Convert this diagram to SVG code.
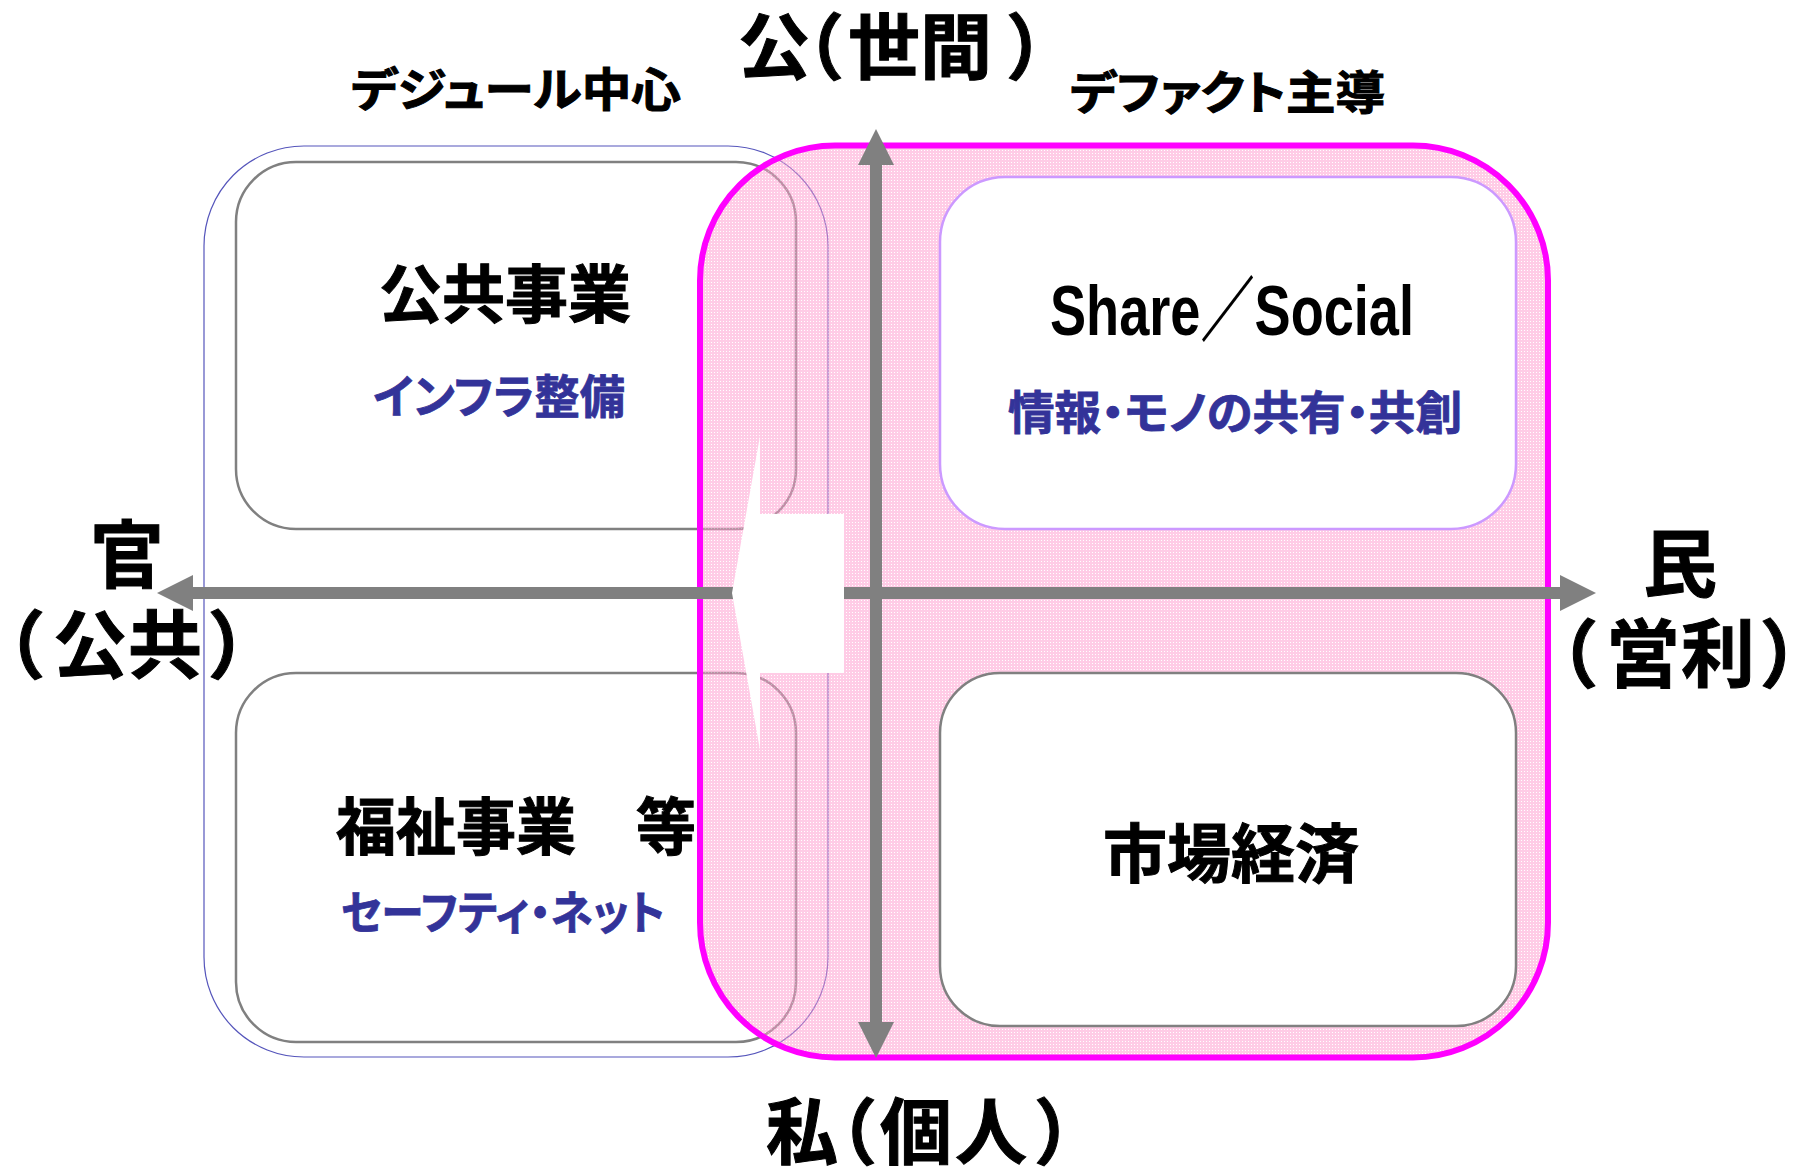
<svg xmlns="http://www.w3.org/2000/svg" width="1807" height="1167" viewBox="0 0 1807 1167">
<style>
.jp{font-family:"Noto Sans CJK JP","Noto Sans CJK SC",sans-serif;font-weight:700}
.pal{font-feature-settings:"palt"}
.blk{fill:#000;stroke:#000;stroke-width:1}
.sub{fill:#333399;stroke:#333399;stroke-width:0.8}
.gbox{fill:#fff;stroke:#808080;stroke-width:2.5}
.lbox{fill:#fff;stroke:#CC99FF;stroke-width:2.5}
.axis{stroke:#808080;stroke-width:12;fill:none}
</style>
<defs>
<pattern id="dots" width="3" height="3" patternUnits="userSpaceOnUse">
<rect width="3" height="3" fill="#FF99CC"/>
<rect width="1" height="1" fill="#FFFFFF"/>
</pattern>
<marker id="head" viewBox="0 0 36 36" refX="0" refY="18" markerWidth="36" markerHeight="36" markerUnits="userSpaceOnUse" orient="auto-start-reverse">
<path d="M0,0 L36,18 L0,36 Z" fill="#808080"/>
</marker>
</defs>
<rect width="1807" height="1167" fill="#fff"/>

<g id="dejure-region">
<rect x="204" y="146" width="624" height="911" rx="100" ry="100" fill="none" stroke="#5555BB" stroke-width="1.2"/>
</g>

<g id="node-public-works">
<rect class="gbox" x="236" y="162" width="560" height="367" rx="60" ry="60"/>
<text class="jp blk" x="505" y="317" font-size="63" text-anchor="middle">公共事業</text>
<text class="jp sub pal" x="373" y="413" font-size="46" textLength="252" lengthAdjust="spacingAndGlyphs">インフラ整備</text>
</g>

<g id="node-welfare">
<rect class="gbox" x="236" y="673" width="560" height="369" rx="60" ry="60"/>
<text class="jp blk" x="336" y="850" font-size="62" textLength="360" lengthAdjust="spacingAndGlyphs">福祉事業　等</text>
<text class="jp sub pal" x="341" y="929" font-size="46" textLength="324" lengthAdjust="spacingAndGlyphs">セーフティ・ネット</text>
</g>

<g id="defacto-region">
<rect x="700" y="145.5" width="848" height="912" rx="135" ry="135" fill="url(#dots)" opacity="0.5"/>
<rect x="700" y="145.5" width="848" height="912" rx="135" ry="135" fill="none" stroke="#FF00FF" stroke-width="6"/>
</g>

<g id="connectors">
<line class="axis" x1="193" y1="593" x2="1560" y2="593" marker-start="url(#head)" marker-end="url(#head)"/>
<line class="axis" x1="876" y1="165" x2="876" y2="1022" marker-start="url(#head)" marker-end="url(#head)"/>
</g>

<g id="node-share">
<rect class="lbox" x="940" y="177" width="576" height="352" rx="65" ry="65"/>
<text x="1050" y="335" font-family="'Liberation Sans','Noto Sans CJK JP',sans-serif" font-weight="700" font-size="71" textLength="364" lengthAdjust="spacingAndGlyphs" fill="#000">Share／Social</text>
<text class="jp sub pal" x="1008" y="429" font-size="46" textLength="454" lengthAdjust="spacingAndGlyphs">情報・モノの共有・共創</text>
</g>

<g id="node-market">
<rect class="gbox" x="940" y="673" width="576" height="353" rx="60" ry="60"/>
<text class="jp blk" x="1231" y="877" font-size="64" text-anchor="middle">市場経済</text>
</g>

<g id="shift-arrow">
<polygon points="732,593 760,436 760,514 844,514 844,673 760,673 760,750" fill="#fff"/>
</g>

<g id="axis-labels">
<text class="jp blk pal" x="351" y="106" font-size="46" textLength="330" lengthAdjust="spacingAndGlyphs">デジュール中心</text>
<text class="jp blk pal" x="1070" y="109" font-size="46" textLength="315" lengthAdjust="spacingAndGlyphs">デファクト主導</text>
<text class="jp blk" x="738 772 848 920 1006" y="73" font-size="72">公（世間）</text>
<text class="jp blk" x="766 805 880 955 1034" y="1158" font-size="72">私（個人）</text>
<text class="jp blk" x="127" y="582" font-size="74" text-anchor="middle">官</text>
<text class="jp blk pal" x="5 53 128 211" y="672" font-size="74">（公共）</text>
<text class="jp blk" x="1680" y="591" font-size="74" text-anchor="middle">民</text>
<text class="jp blk pal" x="1558 1606 1681 1763" y="681" font-size="74">（営利）</text>
</g>
</svg>
